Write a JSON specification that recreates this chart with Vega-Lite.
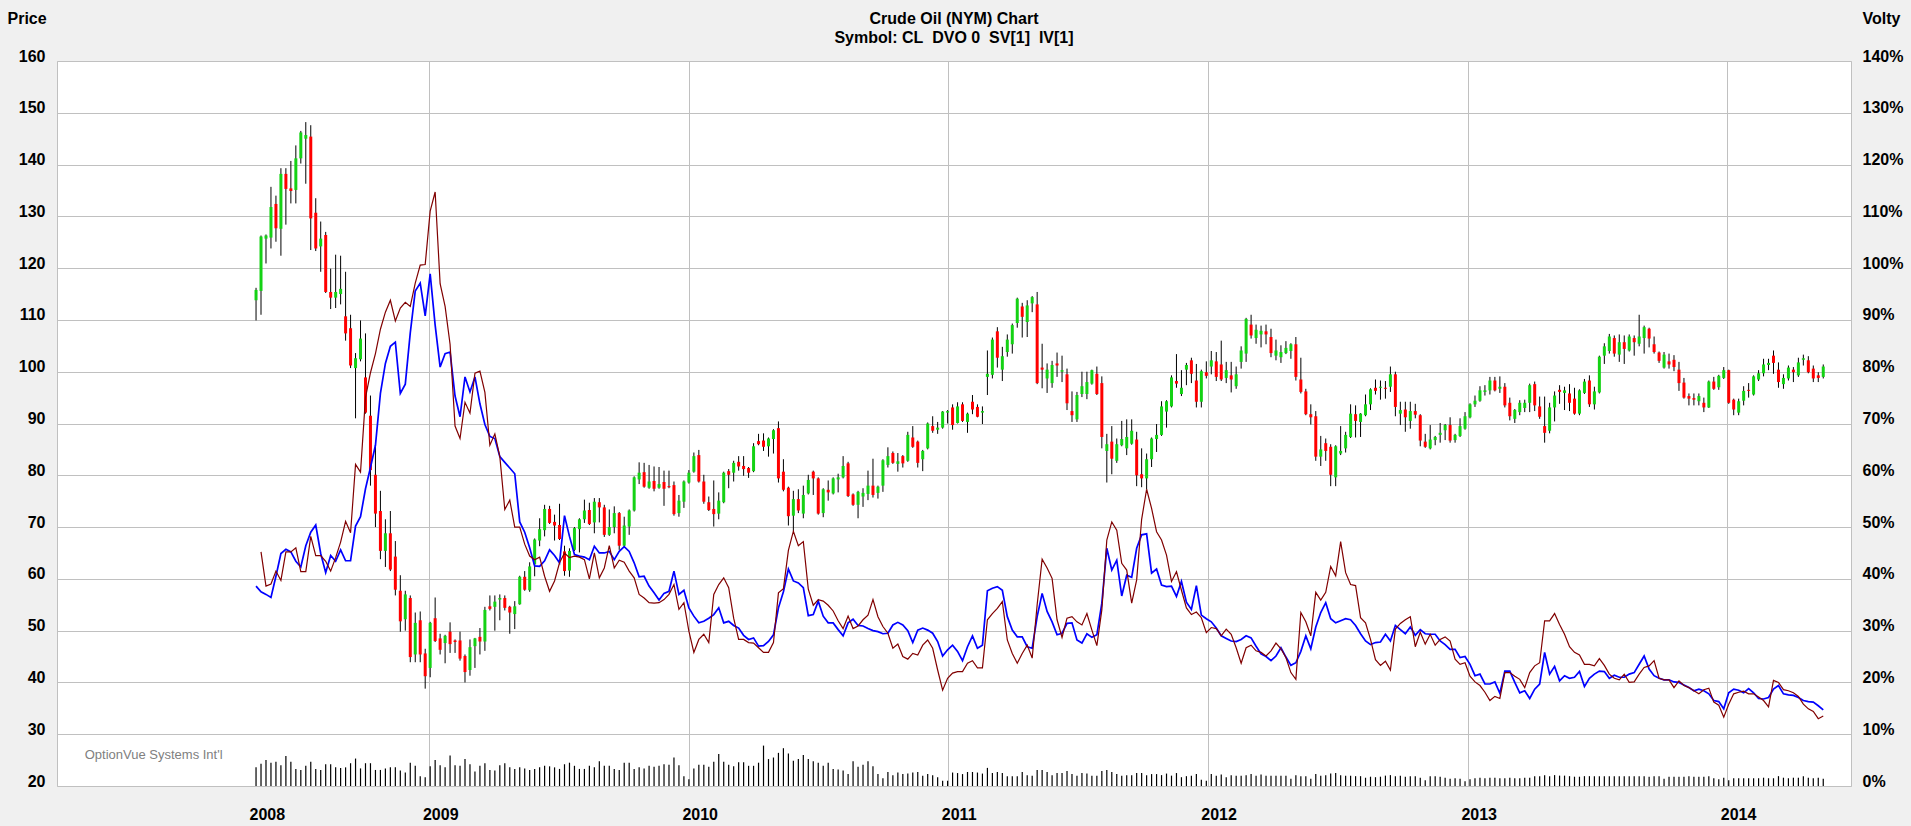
{
  "$schema": "https://vega.github.io/schema/vega-lite/v6.json",
  "description": "Crude Oil (NYM) weekly candles with volatility and volume.",
  "width": 1794,
  "height": 725,
  "autosize": "none",
  "padding": {"left": 57, "top": 61, "right": 60, "bottom": 40},
  "background": "#f0f0f0",
  "title": {
    "text": "Crude Oil (NYM) Chart",
    "subtitle": "Symbol: CL\u00a0 DVO 0\u00a0 SV[1]\u00a0 IV[1]",
    "anchor": "middle",
    "font": "Liberation Sans",
    "fontSize": 16,
    "fontWeight": "bold",
    "color": "black",
    "subtitleFont": "Liberation Sans",
    "subtitleFontSize": 16,
    "subtitleFontWeight": "bold",
    "subtitleColor": "black",
    "subtitlePadding": 3,
    "offset": -36
  },
  "data": {
    "values": [
      {"d":"2008-05-02","o":113.8,"h":116.2,"l":109.9,"c":115.8,"iv":38.6,"v":3.6},
      {"d":"2008-05-09","o":115.6,"h":126.3,"l":111,"c":126.1,"iv":37.5,"sv":45.2,"v":4.3},
      {"d":"2008-05-16","o":125.7,"h":126.5,"l":120.9,"c":126.3,"iv":37,"sv":38.6,"v":5.0},
      {"d":"2008-05-23","o":125.9,"h":135.7,"l":123.8,"c":131.8,"iv":36.4,"sv":39,"v":4.5},
      {"d":"2008-05-30","o":132.4,"h":134,"l":125.1,"c":127.7,"iv":40.5,"sv":41.5,"v":4.7},
      {"d":"2008-06-06","o":127.6,"h":139.3,"l":122.4,"c":138.2,"iv":44.9,"sv":39.7,"v":4.0},
      {"d":"2008-06-13","o":138.2,"h":139.3,"l":128.4,"c":135.3,"iv":45.7,"sv":45.2,"v":5.8},
      {"d":"2008-06-20","o":135.4,"h":140.7,"l":132.5,"c":134.9,"iv":45.2,"sv":45.2,"v":4.7},
      {"d":"2008-06-27","o":135.1,"h":143.7,"l":132.5,"c":141.2,"iv":43.4,"sv":46,"v":3.3},
      {"d":"2008-07-04","o":141.2,"h":146.5,"l":140.2,"c":146.2,"iv":42.3,"sv":41.4,"v":3.1},
      {"d":"2008-07-11","o":145,"h":148.2,"l":136.3,"c":145.7,"iv":46.4,"sv":41.4,"v":3.9},
      {"d":"2008-07-18","o":145.4,"h":147.6,"l":123.5,"c":129.6,"iv":49,"sv":48.2,"v":4.7},
      {"d":"2008-07-25","o":130.7,"h":133.5,"l":123.3,"c":123.8,"iv":50.4,"sv":44.5,"v":3.3},
      {"d":"2008-08-01","o":124.2,"h":129,"l":119.3,"c":125.7,"iv":44.9,"sv":44.5,"v":3.1},
      {"d":"2008-08-08","o":126.4,"h":127,"l":115.2,"c":115.4,"iv":41.2,"sv":43.4,"v":4.2},
      {"d":"2008-08-15","o":115.4,"h":119.9,"l":112.1,"c":114.3,"iv":44.5,"sv":41.5,"v":4.2},
      {"d":"2008-08-22","o":114.3,"h":122.6,"l":112.3,"c":115.4,"iv":43.4,"sv":44.1,"v":3.6},
      {"d":"2008-08-29","o":115,"h":122.4,"l":113,"c":116,"iv":45.6,"sv":47.1,"v":3.5},
      {"d":"2008-09-05","o":110.7,"h":119.3,"l":106,"c":107.4,"iv":43.5,"sv":51.1,"v":3.6},
      {"d":"2008-09-12","o":108.4,"h":111,"l":100.7,"c":101.2,"iv":43.5,"sv":48.9,"v":4.4},
      {"d":"2008-09-19","o":100.7,"h":103.6,"l":91,"c":102.6,"iv":50.2,"sv":62.1,"v":5.3},
      {"d":"2008-09-26","o":102.4,"h":109.9,"l":102,"c":106.4,"iv":52,"sv":60.6,"v":3.4},
      {"d":"2008-10-03","o":98.9,"h":107.4,"l":91.9,"c":92.1,"iv":57.4,"sv":75,"v":4.4},
      {"d":"2008-10-10","o":91.5,"h":95.4,"l":78,"c":81,"iv":61.5,"sv":79.8,"v":4.4},
      {"d":"2008-10-17","o":80.1,"h":85.8,"l":70,"c":72.6,"iv":65.8,"sv":83.5,"v":3.1},
      {"d":"2008-10-24","o":73.1,"h":77,"l":63.8,"c":65.4,"iv":75.8,"sv":88.2,"v":3.1},
      {"d":"2008-10-31","o":65.4,"h":71.5,"l":62.3,"c":68.8,"iv":81.6,"sv":91.5,"v":3.4},
      {"d":"2008-11-07","o":68.8,"h":73.1,"l":61.5,"c":61.8,"iv":84.9,"sv":93.8,"v":3.6},
      {"d":"2008-11-14","o":64.3,"h":67.3,"l":56.8,"c":57.9,"iv":85.7,"sv":89.8,"v":3.6},
      {"d":"2008-11-21","o":57.7,"h":60.7,"l":49.8,"c":51.8,"iv":75.8,"sv":92.3,"v":3.0},
      {"d":"2008-11-28","o":52.2,"h":57.7,"l":50,"c":57,"iv":77.6,"sv":93.4,"v":2.6},
      {"d":"2008-12-05","o":56.3,"h":56.8,"l":43.9,"c":44.9,"iv":87.5,"sv":92.6,"v":4.5},
      {"d":"2008-12-12","o":45.4,"h":53.5,"l":43.9,"c":51.5,"iv":95.6,"sv":97.1,"v":3.9},
      {"d":"2008-12-19","o":52,"h":53.7,"l":43.9,"c":45.4,"iv":97.1,"sv":100.6,"v":1.9},
      {"d":"2008-12-26","o":45.6,"h":46.5,"l":38.8,"c":41.2,"iv":90.8,"sv":100.7,"v":1.7},
      {"d":"2009-01-02","o":42.8,"h":51.7,"l":41,"c":51.5,"iv":98.9,"sv":111,"v":3.8},
      {"d":"2009-01-09","o":52.4,"h":56.4,"l":47.8,"c":48,"iv":89,"sv":114.7,"v":5.0},
      {"d":"2009-01-16","o":48.5,"h":49.4,"l":45.4,"c":46.3,"iv":80.9,"sv":97,"v":4.0},
      {"d":"2009-01-23","o":47.6,"h":49.2,"l":43.7,"c":49,"iv":83.5,"sv":92.6,"v":3.6},
      {"d":"2009-01-30","o":49.8,"h":51.6,"l":45.7,"c":47.4,"iv":83.8,"sv":85.3,"v":5.9},
      {"d":"2009-02-06","o":48.1,"h":48.3,"l":45.7,"c":47.8,"iv":75.3,"sv":69.5,"v":4.0},
      {"d":"2009-02-13","o":48.1,"h":49.8,"l":44.2,"c":44.6,"iv":71.3,"sv":67.1,"v":3.9},
      {"d":"2009-02-20","o":45.1,"h":45.4,"l":40,"c":42,"iv":79,"sv":74.1,"v":5.2},
      {"d":"2009-02-27","o":42.4,"h":48.3,"l":41.3,"c":46.8,"iv":76.1,"sv":72,"v":4.2},
      {"d":"2009-03-06","o":47,"h":48.6,"l":42.8,"c":48.5,"iv":79,"sv":79.7,"v":2.8},
      {"d":"2009-03-13","o":48.8,"h":50.5,"l":45.4,"c":47.9,"iv":73.8,"sv":80.1,"v":3.9},
      {"d":"2009-03-20","o":47.9,"h":54.6,"l":46.1,"c":54,"iv":69.8,"sv":76,"v":4.4},
      {"d":"2009-03-27","o":54.7,"h":56.8,"l":53.9,"c":54.2,"iv":67.5,"sv":65.8,"v":3.1},
      {"d":"2009-04-03","o":54.6,"h":56.8,"l":50,"c":55.6,"iv":67.1,"sv":68,"v":3.0},
      {"d":"2009-04-10","o":56,"h":57,"l":52,"c":56.3,"iv":63.6,"sv":63.6,"v":4.0},
      {"d":"2009-04-17","o":56.3,"h":56.8,"l":53.9,"c":54.4,"iv":62.5,"sv":53.4,"v":4.4},
      {"d":"2009-04-24","o":54.6,"h":54.8,"l":49.4,"c":53.5,"iv":61.4,"sv":55.2,"v":3.6},
      {"d":"2009-05-01","o":53.2,"h":55.7,"l":50.3,"c":54.7,"iv":60.3,"sv":50,"v":3.3},
      {"d":"2009-05-08","o":55.1,"h":60.6,"l":55,"c":60.4,"iv":51,"sv":50,"v":3.6},
      {"d":"2009-05-15","o":60.4,"h":61.5,"l":57.7,"c":57.9,"iv":49,"sv":46.7,"v":3.4},
      {"d":"2009-05-22","o":57.8,"h":63.2,"l":57.5,"c":62.4,"iv":46,"sv":44.4,"v":3.1},
      {"d":"2009-05-29","o":62.8,"h":67.8,"l":60.5,"c":67.6,"iv":42.5,"sv":43.7,"v":3.3},
      {"d":"2009-06-05","o":67.4,"h":71.7,"l":66.3,"c":69.6,"iv":42.4,"sv":44.2,"v":3.6},
      {"d":"2009-06-12","o":69.4,"h":74.3,"l":68.2,"c":73.5,"iv":43.5,"sv":40.5,"v":3.9},
      {"d":"2009-06-19","o":73.5,"h":74.1,"l":70.6,"c":70.8,"iv":45.6,"sv":37.6,"v":3.8},
      {"d":"2009-06-26","o":71,"h":72.4,"l":67.4,"c":70.3,"iv":44.5,"sv":39.6,"v":3.6},
      {"d":"2009-07-03","o":70.4,"h":74.5,"l":67.5,"c":67.7,"iv":43.1,"sv":43.1,"v":3.3},
      {"d":"2009-07-10","o":65.3,"h":66.4,"l":60.6,"c":61.5,"iv":52.2,"sv":45,"v":4.2},
      {"d":"2009-07-17","o":61.6,"h":65.9,"l":60.4,"c":65.4,"iv":48.2,"sv":44.1,"v":4.5},
      {"d":"2009-07-24","o":65.6,"h":70,"l":65.4,"c":69.8,"iv":44.7,"sv":44.4,"v":3.9},
      {"d":"2009-07-31","o":69.6,"h":71.7,"l":65.1,"c":71.5,"iv":44.4,"sv":44.2,"v":3.3},
      {"d":"2009-08-07","o":71.5,"h":75.3,"l":70.8,"c":73.2,"iv":44.2,"sv":43.7,"v":3.3},
      {"d":"2009-08-14","o":73.3,"h":74.7,"l":70.4,"c":70.6,"iv":43.7,"sv":40,"v":3.9},
      {"d":"2009-08-21","o":70.9,"h":75.6,"l":68.8,"c":74.9,"iv":46.3,"sv":45,"v":3.6},
      {"d":"2009-08-28","o":74.8,"h":75.6,"l":70.9,"c":73.8,"iv":45,"sv":40.2,"v":4.8},
      {"d":"2009-09-04","o":73.8,"h":74.3,"l":68.1,"c":68.5,"iv":45,"sv":42.1,"v":3.9},
      {"d":"2009-09-11","o":68.5,"h":73.4,"l":68.3,"c":70,"iv":45.3,"sv":46.4,"v":3.9},
      {"d":"2009-09-18","o":70,"h":74,"l":68.8,"c":72.7,"iv":43.7,"sv":42.1,"v":3.3},
      {"d":"2009-09-25","o":72.7,"h":72.9,"l":65.6,"c":66.4,"iv":45.3,"sv":43.6,"v":3.1},
      {"d":"2009-10-02","o":66.4,"h":72,"l":66,"c":70.3,"iv":46.2,"sv":43.2,"v":4.5},
      {"d":"2009-10-09","o":70.1,"h":73.4,"l":68.5,"c":73.2,"iv":45.3,"sv":41.5,"v":4.5},
      {"d":"2009-10-16","o":73.2,"h":79.8,"l":73,"c":79.6,"iv":43.1,"sv":40.2,"v":3.3},
      {"d":"2009-10-23","o":79.2,"h":82.5,"l":78.3,"c":80.5,"iv":40.4,"sv":37,"v":3.6},
      {"d":"2009-10-30","o":80.6,"h":82.4,"l":77.6,"c":77.8,"iv":40.5,"sv":36.3,"v":3.4},
      {"d":"2009-11-06","o":77.6,"h":82,"l":77.4,"c":78.8,"iv":38.6,"sv":35.4,"v":3.9},
      {"d":"2009-11-13","o":78.9,"h":81.7,"l":76.9,"c":77.4,"iv":37.3,"sv":35.3,"v":3.7},
      {"d":"2009-11-20","o":77.6,"h":81.6,"l":77.4,"c":78.3,"iv":35.9,"sv":35.4,"v":3.9},
      {"d":"2009-11-27","o":78.7,"h":80.9,"l":74.1,"c":77.4,"iv":37.2,"sv":36,"v":4.2},
      {"d":"2009-12-04","o":77.9,"h":80.9,"l":77.5,"c":77.7,"iv":37.6,"sv":37,"v":4.1},
      {"d":"2009-12-11","o":78.1,"h":78.8,"l":72.2,"c":72.5,"iv":41.5,"sv":38.9,"v":5.5},
      {"d":"2009-12-18","o":72.7,"h":76.2,"l":72,"c":75.1,"iv":37,"sv":34.1,"v":4.0},
      {"d":"2009-12-25","o":74.9,"h":79,"l":73.7,"c":78.8,"iv":37.8,"sv":35.4,"v":1.9},
      {"d":"2010-01-01","o":78.6,"h":81,"l":78.4,"c":80.5,"iv":34.4,"sv":29.9,"v":1.3},
      {"d":"2010-01-08","o":80.7,"h":84.4,"l":80.5,"c":83.7,"iv":32.8,"sv":25.8,"v":3.4},
      {"d":"2010-01-15","o":83.9,"h":84.9,"l":78.6,"c":78.8,"iv":31.5,"sv":28.3,"v":4.1},
      {"d":"2010-01-22","o":78.8,"h":80.1,"l":74.5,"c":74.9,"iv":31.8,"sv":29.3,"v":4.1},
      {"d":"2010-01-29","o":74.8,"h":75.9,"l":73.1,"c":73.3,"iv":32.4,"sv":27.7,"v":3.7},
      {"d":"2010-02-05","o":73.5,"h":79,"l":70.1,"c":72.5,"iv":33.1,"sv":37,"v":4.7},
      {"d":"2010-02-12","o":72.6,"h":76.7,"l":71.5,"c":75.1,"iv":34.4,"sv":38.9,"v":6.2},
      {"d":"2010-02-19","o":74.8,"h":80.7,"l":74.6,"c":80.5,"iv":31.5,"sv":40.2,"v":4.7},
      {"d":"2010-02-26","o":80.8,"h":81.2,"l":77.5,"c":80.1,"iv":31.8,"sv":38.3,"v":4.1},
      {"d":"2010-03-05","o":80.5,"h":82.8,"l":78.8,"c":82.4,"iv":31,"sv":32.4,"v":3.8},
      {"d":"2010-03-12","o":82.6,"h":83.7,"l":80.9,"c":81.7,"iv":30.5,"sv":28.3,"v":4.6},
      {"d":"2010-03-19","o":81.8,"h":83.7,"l":79.9,"c":81.2,"iv":29.1,"sv":28.3,"v":4.6},
      {"d":"2010-03-26","o":81.4,"h":81.6,"l":79.5,"c":80.5,"iv":28.3,"sv":27.7,"v":3.9},
      {"d":"2010-04-02","o":80.8,"h":86.2,"l":80.6,"c":85.6,"iv":28.6,"sv":27.6,"v":3.9},
      {"d":"2010-04-09","o":86.6,"h":88,"l":85.8,"c":86,"iv":27,"sv":26.7,"v":4.5},
      {"d":"2010-04-16","o":86.7,"h":88.1,"l":84.7,"c":85.5,"iv":27.1,"sv":25.8,"v":7.8},
      {"d":"2010-04-23","o":85.6,"h":87.3,"l":83.6,"c":87.1,"iv":27.9,"sv":25.8,"v":5.2},
      {"d":"2010-04-30","o":87,"h":88.9,"l":84.2,"c":88.7,"iv":29.2,"sv":27.7,"v":5.5},
      {"d":"2010-05-07","o":89.1,"h":90.4,"l":78.6,"c":79.4,"iv":34.4,"sv":37.3,"v":6.4},
      {"d":"2010-05-14","o":80.7,"h":83.1,"l":76.9,"c":77.2,"iv":37.5,"sv":38.1,"v":7.3},
      {"d":"2010-05-21","o":77.6,"h":77.8,"l":70.3,"c":72.1,"iv":41.9,"sv":45.5,"v":6.3},
      {"d":"2010-05-28","o":72.2,"h":77,"l":69.2,"c":75.4,"iv":39.6,"sv":49.2,"v":4.9},
      {"d":"2010-06-04","o":75.4,"h":77.3,"l":72.7,"c":73.2,"iv":39.2,"sv":46.4,"v":5.2},
      {"d":"2010-06-11","o":72.6,"h":78,"l":71.7,"c":76.2,"iv":38.3,"sv":47.2,"v":6.0},
      {"d":"2010-06-18","o":76.5,"h":80.1,"l":76.3,"c":79.1,"iv":32.9,"sv":38,"v":5.2},
      {"d":"2010-06-25","o":80.7,"h":80.9,"l":76.2,"c":79.4,"iv":33.1,"sv":34.9,"v":4.8},
      {"d":"2010-07-02","o":79.4,"h":79.6,"l":72.4,"c":72.6,"iv":35.7,"sv":36,"v":4.5},
      {"d":"2010-07-09","o":72.7,"h":77.5,"l":71.9,"c":77.3,"iv":32.8,"sv":35.7,"v":3.9},
      {"d":"2010-07-16","o":77.2,"h":79,"l":75.1,"c":76.7,"iv":31.5,"sv":34.9,"v":4.5},
      {"d":"2010-07-23","o":76.5,"h":79.6,"l":76.3,"c":79.4,"iv":31.5,"sv":33.8,"v":3.3},
      {"d":"2010-07-30","o":79.2,"h":80.3,"l":76.7,"c":79.6,"iv":30.2,"sv":31.9,"v":3.2},
      {"d":"2010-08-06","o":79.6,"h":83.7,"l":79.4,"c":81.8,"iv":29,"sv":30.4,"v":3.0},
      {"d":"2010-08-13","o":82.3,"h":82.6,"l":75.8,"c":76,"iv":31.5,"sv":32.8,"v":2.3},
      {"d":"2010-08-20","o":76.3,"h":76.5,"l":74.1,"c":74.3,"iv":32.2,"sv":30.4,"v":4.8},
      {"d":"2010-08-27","o":74.3,"h":77,"l":71.7,"c":76.8,"iv":31,"sv":30.9,"v":3.7},
      {"d":"2010-09-03","o":75.9,"h":77.5,"l":73.9,"c":76.6,"iv":30.9,"sv":32.1,"v":4.1},
      {"d":"2010-09-10","o":76.4,"h":80.9,"l":75.2,"c":78,"iv":30.4,"sv":33,"v":4.8},
      {"d":"2010-09-17","o":78,"h":83.2,"l":75.7,"c":76.2,"iv":30,"sv":36,"v":3.8},
      {"d":"2010-09-24","o":76.6,"h":78,"l":75.5,"c":77.8,"iv":29.8,"sv":32.7,"v":2.3},
      {"d":"2010-10-01","o":78,"h":83.1,"l":76.8,"c":82.9,"iv":29.4,"sv":30.8,"v":1.5},
      {"d":"2010-10-08","o":82,"h":85.4,"l":81.5,"c":83.7,"iv":29.5,"sv":29.5,"v":2.7},
      {"d":"2010-10-15","o":84.3,"h":84.6,"l":82.2,"c":82.4,"iv":31.1,"sv":26.6,"v":2.1},
      {"d":"2010-10-22","o":82.2,"h":84.3,"l":80.7,"c":82.7,"iv":31.6,"sv":27.4,"v":2.6},
      {"d":"2010-10-29","o":83.7,"h":83.9,"l":81.5,"c":82.3,"iv":31.1,"sv":25,"v":2.3},
      {"d":"2010-11-05","o":82.8,"h":88.4,"l":82.6,"c":87.8,"iv":30,"sv":24.5,"v":2.4},
      {"d":"2010-11-12","o":87.3,"h":89.5,"l":85.3,"c":85.5,"iv":27.7,"sv":25.6,"v":2.6},
      {"d":"2010-11-19","o":86.5,"h":86.7,"l":81.5,"c":82.4,"iv":30.1,"sv":25.3,"v":2.7},
      {"d":"2010-11-26","o":83.1,"h":84.9,"l":80.8,"c":84.7,"iv":30.5,"sv":27.2,"v":2.0},
      {"d":"2010-12-03","o":85.2,"h":90.2,"l":85,"c":90,"iv":30.1,"sv":28.2,"v":2.3},
      {"d":"2010-12-10","o":89.5,"h":91.4,"l":88.2,"c":88.6,"iv":29.5,"sv":26.6,"v":2.1},
      {"d":"2010-12-17","o":88.8,"h":90.3,"l":88,"c":89.2,"iv":27.9,"sv":22.4,"v":1.7},
      {"d":"2010-12-24","o":89.2,"h":92.4,"l":89,"c":92.3,"iv":25.1,"sv":18.5,"v":1.0},
      {"d":"2010-12-31","o":92.1,"h":92.6,"l":90,"c":92.4,"iv":26.3,"sv":20.8,"v":1.0},
      {"d":"2011-01-07","o":93.1,"h":93.7,"l":88.8,"c":89.7,"iv":27.2,"sv":21.8,"v":2.6},
      {"d":"2011-01-14","o":90.1,"h":94.1,"l":90,"c":93.3,"iv":26,"sv":22.1,"v":2.5},
      {"d":"2011-01-21","o":93.7,"h":94.1,"l":90.3,"c":90.5,"iv":24.2,"sv":22.1,"v":2.3},
      {"d":"2011-01-28","o":90.3,"h":92.1,"l":88.2,"c":91.9,"iv":26.9,"sv":23.7,"v":2.7},
      {"d":"2011-02-04","o":94.2,"h":95.5,"l":91.8,"c":92.7,"iv":29,"sv":24.2,"v":2.7},
      {"d":"2011-02-11","o":93.2,"h":93.7,"l":91.2,"c":91.3,"iv":26.6,"sv":22.8,"v":2.6},
      {"d":"2011-02-18","o":92.1,"h":93.3,"l":89.9,"c":92.4,"iv":27.2,"sv":22.8,"v":2.4},
      {"d":"2011-02-25","o":99,"h":104.1,"l":95.5,"c":99.6,"iv":37.7,"sv":32.1,"v":3.5},
      {"d":"2011-03-04","o":99.4,"h":106.6,"l":98.7,"c":106.2,"iv":38.2,"sv":33.3,"v":2.5},
      {"d":"2011-03-11","o":107.8,"h":108.6,"l":100.8,"c":102.7,"iv":38.5,"sv":34.3,"v":2.7},
      {"d":"2011-03-18","o":100.4,"h":104.8,"l":98.2,"c":103,"iv":37.8,"sv":35.6,"v":2.5},
      {"d":"2011-03-25","o":103.8,"h":107.2,"l":102.9,"c":106.2,"iv":32.7,"sv":28.2,"v":1.9},
      {"d":"2011-04-01","o":105.3,"h":109.3,"l":103.5,"c":109,"iv":30.1,"sv":25.6,"v":1.9},
      {"d":"2011-04-08","o":109.4,"h":114.3,"l":108.5,"c":114.1,"iv":28.8,"sv":23.7,"v":1.9},
      {"d":"2011-04-15","o":112.6,"h":113.3,"l":106.6,"c":110.6,"iv":28.8,"sv":25.6,"v":2.7},
      {"d":"2011-04-22","o":109.6,"h":113.8,"l":106.7,"c":112.8,"iv":26.9,"sv":27.2,"v":2.1},
      {"d":"2011-04-29","o":113.2,"h":114.6,"l":111.5,"c":114.4,"iv":26.6,"sv":24.7,"v":2.0},
      {"d":"2011-05-06","o":113,"h":115.4,"l":97.6,"c":97.8,"iv":32.7,"sv":35,"v":3.1},
      {"d":"2011-05-13","o":100.8,"h":105.4,"l":96.8,"c":100.4,"iv":37.2,"sv":43.8,"v":3.1},
      {"d":"2011-05-20","o":98.7,"h":101.6,"l":95.9,"c":100.4,"iv":33.7,"sv":42.1,"v":2.7},
      {"d":"2011-05-27","o":97.8,"h":102.1,"l":96.9,"c":101.3,"iv":31.7,"sv":40.1,"v":2.1},
      {"d":"2011-06-03","o":101.6,"h":103.7,"l":99,"c":101.2,"iv":29.2,"sv":32.1,"v":2.5},
      {"d":"2011-06-10","o":100,"h":103.1,"l":98,"c":100.3,"iv":29.5,"sv":28.7,"v":2.5},
      {"d":"2011-06-17","o":99.5,"h":100.6,"l":92.6,"c":93.9,"iv":31.4,"sv":32.4,"v":2.9},
      {"d":"2011-06-24","o":92.4,"h":96.2,"l":90.3,"c":91.6,"iv":31.5,"sv":32.7,"v":2.3},
      {"d":"2011-07-01","o":90.8,"h":96.1,"l":90.3,"c":95.5,"iv":28.2,"sv":31.7,"v":2.0},
      {"d":"2011-07-08","o":95.7,"h":100,"l":95.1,"c":97.2,"iv":27.6,"sv":31.1,"v":2.5},
      {"d":"2011-07-15","o":95.7,"h":100,"l":94.7,"c":98,"iv":29.4,"sv":33.3,"v":2.4},
      {"d":"2011-07-22","o":97.7,"h":100.4,"l":97.5,"c":100.3,"iv":28.7,"sv":30.1,"v":2.0},
      {"d":"2011-07-29","o":99.6,"h":101,"l":95.5,"c":95.7,"iv":29.2,"sv":27.1,"v":2.0},
      {"d":"2011-08-05","o":97.8,"h":99.1,"l":85.2,"c":87.4,"iv":35.3,"sv":34,"v":2.9},
      {"d":"2011-08-12","o":84.7,"h":88,"l":78.6,"c":86,"iv":45.9,"sv":47.5,"v":3.1},
      {"d":"2011-08-19","o":86.5,"h":89.5,"l":80.2,"c":83.2,"iv":41.7,"sv":51,"v":2.7},
      {"d":"2011-08-26","o":82.8,"h":87.1,"l":82.4,"c":86,"iv":43.6,"sv":49.4,"v":2.3},
      {"d":"2011-09-02","o":85.8,"h":90.5,"l":85.6,"c":87,"iv":36.7,"sv":43,"v":2.0},
      {"d":"2011-09-09","o":85.2,"h":90.8,"l":83.9,"c":87.4,"iv":40.7,"sv":41.7,"v":2.1},
      {"d":"2011-09-16","o":86.1,"h":90.8,"l":85.9,"c":88.6,"iv":40.3,"sv":35.3,"v":2.1},
      {"d":"2011-09-23","o":86.9,"h":88.4,"l":77.9,"c":80,"iv":45.9,"sv":39.8,"v":2.5},
      {"d":"2011-09-30","o":80.2,"h":85.2,"l":77.7,"c":79.4,"iv":48.5,"sv":51.5,"v":2.5},
      {"d":"2011-10-07","o":79.4,"h":84.2,"l":77.3,"c":83.1,"iv":48.7,"sv":57.3,"v":2.1},
      {"d":"2011-10-14","o":83.1,"h":87.3,"l":81.6,"c":87.1,"iv":41.1,"sv":53.6,"v":2.3},
      {"d":"2011-10-21","o":87,"h":89.9,"l":84.5,"c":87.8,"iv":41.9,"sv":49.1,"v":2.3},
      {"d":"2011-10-28","o":87.8,"h":94.3,"l":87.6,"c":93.3,"iv":38.8,"sv":47.5,"v":2.1},
      {"d":"2011-11-04","o":92.3,"h":94.5,"l":89.2,"c":94.3,"iv":38.5,"sv":44.6,"v":2.4},
      {"d":"2011-11-11","o":93.3,"h":99.3,"l":93.1,"c":98.9,"iv":38.6,"sv":39.5,"v":2.0},
      {"d":"2011-11-18","o":98.2,"h":103.4,"l":96.9,"c":97.7,"iv":36.6,"sv":41.4,"v":2.5},
      {"d":"2011-11-25","o":95.7,"h":100.3,"l":95.3,"c":96.9,"iv":39.5,"sv":37.8,"v":1.7},
      {"d":"2011-12-02","o":100.4,"h":101.7,"l":97.4,"c":101.3,"iv":35.5,"sv":34.4,"v":1.9},
      {"d":"2011-12-09","o":102.2,"h":102.7,"l":97.8,"c":99.6,"iv":34.1,"sv":33.1,"v":2.0},
      {"d":"2011-12-16","o":98.3,"h":101.5,"l":93.1,"c":94.2,"iv":38.7,"sv":33.6,"v":2.3},
      {"d":"2011-12-23","o":94.2,"h":100.4,"l":93.1,"c":100.1,"iv":33,"sv":32.5,"v":1.2},
      {"d":"2011-12-30","o":99.9,"h":102,"l":98.7,"c":99.2,"iv":32.3,"sv":29.6,"v":1.0},
      {"d":"2012-01-06","o":101,"h":104,"l":99.5,"c":102.2,"iv":31.7,"sv":30.6,"v":2.3},
      {"d":"2012-01-13","o":102,"h":103.8,"l":98.2,"c":99,"iv":30.5,"sv":30.4,"v":2.0},
      {"d":"2012-01-20","o":101.4,"h":106,"l":98.2,"c":98.5,"iv":29,"sv":29,"v":2.2},
      {"d":"2012-01-27","o":98.8,"h":101.9,"l":97.8,"c":100.3,"iv":28.5,"sv":30.3,"v":1.7},
      {"d":"2012-02-03","o":99.3,"h":101.9,"l":96,"c":98.5,"iv":28,"sv":29.3,"v":2.1},
      {"d":"2012-02-10","o":97.2,"h":101,"l":96.7,"c":99.5,"iv":27.9,"sv":26.7,"v":2.0},
      {"d":"2012-02-17","o":101.9,"h":104.9,"l":100.6,"c":104.1,"iv":28.3,"sv":23.7,"v":2.0},
      {"d":"2012-02-24","o":103.5,"h":110.4,"l":101.9,"c":110.2,"iv":29,"sv":26.7,"v":2.1},
      {"d":"2012-03-02","o":109.1,"h":111,"l":106.4,"c":107,"iv":28.6,"sv":27.2,"v":2.3},
      {"d":"2012-03-09","o":106.5,"h":109.1,"l":105.4,"c":108.1,"iv":27,"sv":26.1,"v":2.0},
      {"d":"2012-03-16","o":107.2,"h":108.9,"l":104.7,"c":107.9,"iv":25.5,"sv":25.8,"v":2.2},
      {"d":"2012-03-23","o":107.8,"h":109.1,"l":105.3,"c":107.2,"iv":25,"sv":25.1,"v":2.0},
      {"d":"2012-03-30","o":106.7,"h":108.3,"l":102.8,"c":103.6,"iv":24.2,"sv":26.1,"v":2.0},
      {"d":"2012-04-06","o":103.1,"h":106.2,"l":102.2,"c":104.1,"iv":25.1,"sv":27.6,"v":2.0},
      {"d":"2012-04-13","o":102.8,"h":105.1,"l":101.7,"c":103.8,"iv":26.7,"sv":26.5,"v":2.0},
      {"d":"2012-04-20","o":103.6,"h":105.9,"l":103.4,"c":104.6,"iv":24.9,"sv":24.8,"v":2.0},
      {"d":"2012-04-27","o":104,"h":105.5,"l":102.5,"c":105.3,"iv":23.3,"sv":21.9,"v":1.4},
      {"d":"2012-05-04","o":105.3,"h":106.7,"l":98.3,"c":99,"iv":23.8,"sv":20.6,"v":2.1},
      {"d":"2012-05-11","o":98.5,"h":102.7,"l":95.8,"c":96.1,"iv":26,"sv":33.5,"v":1.9},
      {"d":"2012-05-18","o":96.2,"h":96.7,"l":91.6,"c":91.8,"iv":29,"sv":31.7,"v":1.9},
      {"d":"2012-05-25","o":91.8,"h":93.7,"l":89.8,"c":91.2,"iv":26.5,"sv":29,"v":1.4},
      {"d":"2012-06-01","o":91.4,"h":92.4,"l":82.8,"c":83.6,"iv":30.7,"sv":37.4,"v":2.3},
      {"d":"2012-06-08","o":83.6,"h":87.6,"l":81.8,"c":85,"iv":33.5,"sv":35.9,"v":2.0},
      {"d":"2012-06-15","o":86.2,"h":87.1,"l":82.8,"c":84.7,"iv":35.4,"sv":37.4,"v":2.1},
      {"d":"2012-06-22","o":85.5,"h":86,"l":77.9,"c":80.1,"iv":32.3,"sv":42.4,"v":2.4},
      {"d":"2012-06-29","o":79.6,"h":85.8,"l":77.9,"c":85.6,"iv":31.5,"sv":40.6,"v":2.5},
      {"d":"2012-07-06","o":84.2,"h":89.5,"l":83.9,"c":84.7,"iv":31.9,"sv":47.2,"v":2.1},
      {"d":"2012-07-13","o":85.2,"h":88.4,"l":84.4,"c":87.8,"iv":32.3,"sv":41.2,"v":2.0},
      {"d":"2012-07-20","o":87.4,"h":93.7,"l":87.2,"c":91.9,"iv":32.1,"sv":38.9,"v":2.0},
      {"d":"2012-07-27","o":91.8,"h":93.5,"l":87.3,"c":90.5,"iv":31,"sv":38.7,"v":1.9},
      {"d":"2012-08-03","o":90.3,"h":92,"l":87.4,"c":91.9,"iv":29.4,"sv":32.5,"v":1.9},
      {"d":"2012-08-10","o":91.6,"h":95.6,"l":91.4,"c":93.7,"iv":28,"sv":31.5,"v":1.6},
      {"d":"2012-08-17","o":93.7,"h":96.8,"l":92.6,"c":96.6,"iv":27.3,"sv":28.3,"v":1.8},
      {"d":"2012-08-24","o":96.9,"h":98.5,"l":95.6,"c":96.3,"iv":27.7,"sv":24.4,"v":1.7},
      {"d":"2012-08-31","o":96.9,"h":98.3,"l":94.6,"c":97.1,"iv":27.8,"sv":23.3,"v":1.8},
      {"d":"2012-09-07","o":96.9,"h":98.2,"l":94.8,"c":96.7,"iv":29.3,"sv":24.1,"v":2.0},
      {"d":"2012-09-14","o":97.1,"h":101,"l":96.1,"c":99.5,"iv":28,"sv":22.4,"v":2.1},
      {"d":"2012-09-21","o":99.5,"h":100,"l":91.4,"c":93.2,"iv":31,"sv":30.3,"v":1.9},
      {"d":"2012-09-28","o":91.9,"h":94.2,"l":89.7,"c":92.6,"iv":30.2,"sv":31.4,"v":2.0},
      {"d":"2012-10-05","o":92.7,"h":94.2,"l":88.4,"c":91.2,"iv":29.4,"sv":32.1,"v":1.8},
      {"d":"2012-10-12","o":90.5,"h":94.2,"l":89,"c":92.4,"iv":30.7,"sv":32.7,"v":1.9},
      {"d":"2012-10-19","o":92.4,"h":93.8,"l":91,"c":91.7,"iv":29.1,"sv":26.9,"v":1.9},
      {"d":"2012-10-26","o":91.6,"h":91.8,"l":85.6,"c":86.7,"iv":30.2,"sv":29.7,"v":1.6},
      {"d":"2012-11-02","o":86.5,"h":88,"l":85.3,"c":85.5,"iv":29.4,"sv":27.4,"v":1.1},
      {"d":"2012-11-09","o":85.2,"h":89.7,"l":85,"c":86.9,"iv":29.3,"sv":29.3,"v":1.9},
      {"d":"2012-11-16","o":86.8,"h":87.6,"l":85.8,"c":87.4,"iv":29.3,"sv":27.2,"v":1.9},
      {"d":"2012-11-23","o":87.8,"h":90.1,"l":86.3,"c":88.2,"iv":28,"sv":28.3,"v":1.8},
      {"d":"2012-11-30","o":88.7,"h":89.9,"l":86.8,"c":89.7,"iv":27.3,"sv":28.8,"v":1.6},
      {"d":"2012-12-07","o":89.7,"h":91.2,"l":86.3,"c":86.7,"iv":26.4,"sv":28,"v":1.4},
      {"d":"2012-12-14","o":86.8,"h":88,"l":86.3,"c":87.8,"iv":26.4,"sv":24.5,"v":1.5},
      {"d":"2012-12-21","o":87.6,"h":91,"l":87.4,"c":89.5,"iv":24.8,"sv":23.5,"v":1.4},
      {"d":"2012-12-28","o":89,"h":92.2,"l":88.8,"c":91.4,"iv":25,"sv":23.8,"v":0.9},
      {"d":"2013-01-04","o":91.2,"h":93.9,"l":91,"c":93.7,"iv":23.5,"sv":21.2,"v":1.3},
      {"d":"2013-01-11","o":93.7,"h":95.4,"l":93.2,"c":94.4,"iv":21.3,"sv":20.1,"v":1.5},
      {"d":"2013-01-18","o":94.4,"h":97.2,"l":94.2,"c":96.4,"iv":21.6,"sv":19.4,"v":1.6},
      {"d":"2013-01-25","o":96.1,"h":97.4,"l":95.4,"c":96.4,"iv":19.7,"sv":18.1,"v":1.5},
      {"d":"2013-02-01","o":96.4,"h":99,"l":95.6,"c":98.3,"iv":19.7,"sv":16.5,"v":1.6},
      {"d":"2013-02-08","o":98.3,"h":99,"l":96.2,"c":96.4,"iv":20.1,"sv":17.3,"v":1.6},
      {"d":"2013-02-15","o":96.7,"h":99.1,"l":95.9,"c":97.1,"iv":17.9,"sv":16.9,"v":1.5},
      {"d":"2013-02-22","o":97.1,"h":97.8,"l":93.1,"c":93.5,"iv":22.2,"sv":21.9,"v":1.5},
      {"d":"2013-03-01","o":94,"h":95,"l":90.6,"c":91.4,"iv":22.2,"sv":21.9,"v":1.6},
      {"d":"2013-03-08","o":90.9,"h":92.8,"l":90.1,"c":92.6,"iv":20,"sv":21.2,"v":1.5},
      {"d":"2013-03-15","o":92.2,"h":94.5,"l":91.6,"c":94,"iv":18,"sv":20.6,"v":1.5},
      {"d":"2013-03-22","o":93,"h":94.6,"l":92.2,"c":94,"iv":18.4,"sv":19,"v":1.6},
      {"d":"2013-03-29","o":94,"h":97.7,"l":92.2,"c":97.4,"iv":16.9,"sv":21.9,"v":1.6},
      {"d":"2013-04-05","o":97.6,"h":98.1,"l":92.4,"c":93.5,"iv":18.7,"sv":23.2,"v":1.9},
      {"d":"2013-04-12","o":93.3,"h":95.2,"l":90.9,"c":91.3,"iv":19.7,"sv":23.8,"v":1.9},
      {"d":"2013-04-19","o":89.5,"h":95.2,"l":86.3,"c":88.2,"iv":25.8,"sv":31.9,"v":2.1},
      {"d":"2013-04-26","o":88.6,"h":94,"l":88.1,"c":93.1,"iv":21.6,"sv":31.9,"v":1.9},
      {"d":"2013-05-03","o":93.1,"h":96.2,"l":90.4,"c":95.4,"iv":23.1,"sv":33.3,"v":2.1},
      {"d":"2013-05-10","o":96.5,"h":97.4,"l":93.8,"c":96.1,"iv":20.3,"sv":31.2,"v":2.0},
      {"d":"2013-05-17","o":95.9,"h":97.1,"l":92.6,"c":96.4,"iv":21.3,"sv":29.3,"v":2.0},
      {"d":"2013-05-24","o":95.8,"h":97.6,"l":92.4,"c":94,"iv":20.8,"sv":26.9,"v":1.9},
      {"d":"2013-05-31","o":94.8,"h":96.9,"l":91.7,"c":91.9,"iv":21,"sv":25.8,"v":1.8},
      {"d":"2013-06-07","o":91.9,"h":96.6,"l":91.6,"c":96.4,"iv":22.1,"sv":25.3,"v":1.8},
      {"d":"2013-06-14","o":95.9,"h":98.6,"l":95.7,"c":98.1,"iv":19.2,"sv":23.5,"v":1.9},
      {"d":"2013-06-21","o":98.3,"h":99.3,"l":93.2,"c":93.7,"iv":20.8,"sv":23.5,"v":1.9},
      {"d":"2013-06-28","o":93.7,"h":97.1,"l":92.7,"c":96.2,"iv":21.6,"sv":23.2,"v":1.9},
      {"d":"2013-07-05","o":96,"h":103.1,"l":95.8,"c":102.9,"iv":22.2,"sv":24.6,"v":1.9},
      {"d":"2013-07-12","o":103.1,"h":105.5,"l":101.5,"c":104.9,"iv":22.1,"sv":23.3,"v":1.9},
      {"d":"2013-07-19","o":104,"h":107.3,"l":103.5,"c":106.8,"iv":20.8,"sv":21.6,"v":1.9},
      {"d":"2013-07-26","o":106.5,"h":107,"l":102.9,"c":103.5,"iv":21.4,"sv":20.8,"v":1.9},
      {"d":"2013-08-02","o":103.3,"h":107.2,"l":101.9,"c":105.7,"iv":21,"sv":20.5,"v":1.9},
      {"d":"2013-08-09","o":105.7,"h":107,"l":101.5,"c":104.4,"iv":21,"sv":21.6,"v":1.9},
      {"d":"2013-08-16","o":104.1,"h":107.2,"l":103.9,"c":106.8,"iv":21.6,"sv":20,"v":1.9},
      {"d":"2013-08-23","o":106.5,"h":107,"l":103.1,"c":105.7,"iv":21.9,"sv":20.1,"v":1.9},
      {"d":"2013-08-30","o":105.4,"h":111,"l":104.9,"c":106.8,"iv":23.5,"sv":21.6,"v":1.9},
      {"d":"2013-09-06","o":106.5,"h":108.9,"l":103.5,"c":108.6,"iv":25.1,"sv":22.9,"v":1.9},
      {"d":"2013-09-13","o":108.3,"h":108.5,"l":104.7,"c":106.4,"iv":22.6,"sv":23.2,"v":1.8},
      {"d":"2013-09-20","o":105.3,"h":106.8,"l":103.5,"c":103.8,"iv":21.3,"sv":24.2,"v":1.9},
      {"d":"2013-09-27","o":103.7,"h":103.9,"l":101.7,"c":102.1,"iv":20.8,"sv":20.8,"v":1.9},
      {"d":"2013-10-04","o":100.8,"h":103.8,"l":100.6,"c":103.3,"iv":20.5,"sv":20.5,"v":1.4},
      {"d":"2013-10-11","o":102,"h":103.5,"l":100.6,"c":101.4,"iv":20.5,"sv":20.5,"v":1.8},
      {"d":"2013-10-18","o":102.3,"h":103.2,"l":100.1,"c":100.9,"iv":20.1,"sv":19,"v":1.8},
      {"d":"2013-10-25","o":100.4,"h":101.9,"l":96.3,"c":97.8,"iv":20,"sv":20.3,"v":1.8},
      {"d":"2013-11-01","o":97.9,"h":98.8,"l":94.8,"c":95,"iv":19.5,"sv":19.4,"v":1.8},
      {"d":"2013-11-08","o":95.3,"h":95.8,"l":93.5,"c":94.8,"iv":19,"sv":19,"v":1.9},
      {"d":"2013-11-15","o":94.9,"h":95.8,"l":93.5,"c":94.6,"iv":18.4,"sv":18.4,"v":1.8},
      {"d":"2013-11-22","o":94.3,"h":95.8,"l":93.5,"c":95.3,"iv":18.7,"sv":17.8,"v":1.8},
      {"d":"2013-11-29","o":94,"h":95,"l":92.2,"c":93.1,"iv":18.4,"sv":18.6,"v":1.8},
      {"d":"2013-12-06","o":93.1,"h":98.3,"l":93,"c":98.1,"iv":17.8,"sv":18.9,"v":1.9},
      {"d":"2013-12-13","o":98.1,"h":99,"l":96.5,"c":96.7,"iv":16.5,"sv":16.2,"v":1.5},
      {"d":"2013-12-20","o":97,"h":99.4,"l":96.5,"c":99.2,"iv":16.3,"sv":15.6,"v":1.3},
      {"d":"2013-12-27","o":98.8,"h":100.9,"l":98.6,"c":100.3,"iv":14.9,"sv":13.3,"v":1.6},
      {"d":"2014-01-03","o":100.3,"h":100.4,"l":93.8,"c":94,"iv":18,"sv":15.8,"v":1.1},
      {"d":"2014-01-10","o":94.6,"h":94.8,"l":91.6,"c":92.7,"iv":18.7,"sv":17.8,"v":1.5},
      {"d":"2014-01-17","o":92.1,"h":94.8,"l":91.6,"c":94.3,"iv":18.5,"sv":18.1,"v":1.5},
      {"d":"2014-01-24","o":94.4,"h":97.2,"l":93.5,"c":96.3,"iv":18,"sv":18.3,"v":1.5},
      {"d":"2014-01-31","o":96.5,"h":97.8,"l":95,"c":96.3,"iv":18.8,"sv":17.8,"v":1.5},
      {"d":"2014-02-07","o":95.6,"h":99.3,"l":95.4,"c":99.1,"iv":18,"sv":17.8,"v":1.5},
      {"d":"2014-02-14","o":98.5,"h":100.3,"l":98.2,"c":99.7,"iv":16.9,"sv":17.2,"v":1.5},
      {"d":"2014-02-21","o":99.7,"h":102.5,"l":99.1,"c":101.4,"iv":16.8,"sv":16.5,"v":1.6},
      {"d":"2014-02-28","o":101.3,"h":102.5,"l":100.3,"c":101.7,"iv":17.1,"sv":15.3,"v":1.5},
      {"d":"2014-03-07","o":103.1,"h":104.1,"l":99.6,"c":101.7,"iv":18.7,"sv":20.4,"v":1.5},
      {"d":"2014-03-14","o":100.4,"h":101.8,"l":96.9,"c":98,"iv":19.4,"sv":20,"v":1.9},
      {"d":"2014-03-21","o":97.6,"h":99.5,"l":96.7,"c":98.8,"iv":17.8,"sv":18.6,"v":1.6},
      {"d":"2014-03-28","o":98.7,"h":101.2,"l":98.3,"c":100.8,"iv":17.6,"sv":18.4,"v":1.5},
      {"d":"2014-04-04","o":100.4,"h":100.9,"l":98,"c":99.9,"iv":17.5,"sv":18,"v":1.6},
      {"d":"2014-04-11","o":99.3,"h":102.7,"l":99,"c":101.8,"iv":17.1,"sv":17.3,"v":1.6},
      {"d":"2014-04-18","o":102.3,"h":103.3,"l":101.2,"c":102.6,"iv":16.5,"sv":15.8,"v":1.9},
      {"d":"2014-04-25","o":102.2,"h":103,"l":99.7,"c":99.9,"iv":16.3,"sv":14.9,"v":1.6},
      {"d":"2014-05-02","o":100.6,"h":101.2,"l":98,"c":98.7,"iv":16.2,"sv":14.4,"v":1.5},
      {"d":"2014-05-09","o":99.3,"h":99.9,"l":98,"c":98.8,"iv":15.5,"sv":13,"v":1.6},
      {"d":"2014-05-16","o":99,"h":101.4,"l":98.7,"c":101,"iv":14.7,"sv":13.5,"v":1.4}
    ]
  },
  "layer": [
    {
      "mark": {"type": "rule", "color": "black", "strokeWidth": 1.2},
      "encoding": {
        "x": {
          "field": "d",
          "type": "temporal",
          "scale": {
            "type": "utc",
            "domain": [
              {"year": 2007, "month": 8, "date": 3, "utc": true},
              {"year": 2014, "month": 6, "date": 17, "utc": true}
            ]
          },
          "axis": {
            "title": null,
            "values": [
              {"year": 2008, "month": 5, "date": 2, "utc": true},
              {"year": 2009, "month": 1, "date": 1, "utc": true},
              {"year": 2010, "month": 1, "date": 1, "utc": true},
              {"year": 2011, "month": 1, "date": 1, "utc": true},
              {"year": 2012, "month": 1, "date": 1, "utc": true},
              {"year": 2013, "month": 1, "date": 1, "utc": true},
              {"year": 2014, "month": 1, "date": 1, "utc": true}
            ],
            "format": "%Y",
            "labelAlign": "left",
            "labelOffset": -7,
            "labelBaseline": "alphabetic",
            "labelPadding": 33,
            "grid": true,
            "gridOpacity": {"condition": {"test": "year(datum.value) == 2008", "value": 0}, "value": 1}
          }
        },
        "y": {"field": "v", "type": "quantitative", "scale": {"domain": [0, 140], "nice": false, "zero": true}, "axis": null},
        "y2": {"datum": 0}
      }
    },
    {
      "mark": {"type": "rule", "color": "black", "strokeWidth": 1},
      "encoding": {
        "x": {"field": "d", "type": "temporal", "scale": {"type": "utc"}},
        "y": {
          "field": "l",
          "type": "quantitative",
          "scale": {"domain": [20, 160], "nice": false, "zero": false},
          "axis": {
            "orient": "left",
            "values": [20, 30, 40, 50, 60, 70, 80, 90, 100, 110, 120, 130, 140, 150, 160],
            "grid": true,
            "title": "Price",
            "titleAngle": 0,
            "titleAlign": "left",
            "titleBaseline": "alphabetic",
            "titleX": -50,
            "titleY": -38,
            "labelPadding": 12,
            "labelBaseline": "alphabetic"
          }
        },
        "y2": {"field": "h"}
      }
    },
    {
      "mark": {"type": "bar", "width": 3},
      "encoding": {
        "x": {"field": "d", "type": "temporal", "scale": {"type": "utc"}},
        "y": {"field": "o", "type": "quantitative", "scale": {"domain": [20, 160], "nice": false, "zero": false}, "axis": null},
        "y2": {"field": "c"},
        "color": {"condition": {"test": "datum.c >= datum.o", "value": "#14d214"}, "value": "#ff0000"}
      }
    },
    {
      "data": {"values": [{}]},
      "mark": {"type": "text", "text": "OptionVue Systems Int'l", "align": "left", "baseline": "alphabetic", "font": "Liberation Sans", "fontSize": 13, "color": "#808080"},
      "encoding": {
        "x": {"datum": {"year": 2007, "month": 9, "date": 4, "utc": true}, "type": "temporal", "scale": {"type": "utc"}},
        "y": {"datum": 25.2, "type": "quantitative", "scale": {"domain": [20, 160], "nice": false, "zero": false}, "axis": null}
      }
    },
    {
      "mark": {"type": "line", "color": "#0000ff", "strokeWidth": 1.7},
      "encoding": {
        "x": {"field": "d", "type": "temporal", "scale": {"type": "utc"}},
        "y": {
          "field": "iv",
          "type": "quantitative",
          "scale": {"domain": [0, 140], "nice": false, "zero": true},
          "axis": {
            "orient": "right",
            "values": [0, 10, 20, 30, 40, 50, 60, 70, 80, 90, 100, 110, 120, 130, 140],
            "labelExpr": "datum.value + '%'",
            "grid": false,
            "title": "Volty",
            "titleAngle": 0,
            "titleAlign": "left",
            "titleBaseline": "alphabetic",
            "titleX": 11,
            "titleY": -38,
            "labelPadding": 11,
            "labelAlign": "left",
            "labelBaseline": "alphabetic"
          }
        }
      }
    },
    {
      "mark": {"type": "line", "color": "#800000", "strokeWidth": 1.2},
      "encoding": {
        "x": {"field": "d", "type": "temporal", "scale": {"type": "utc"}},
        "y": {"field": "sv", "type": "quantitative", "scale": {"domain": [0, 140], "nice": false, "zero": true}, "axis": null}
      }
    }
  ],
  "resolve": {"scale": {"y": "independent"}},
  "config": {
    "view": {"fill": "white", "stroke": "#c0c0c0", "strokeWidth": 1},
    "axis": {
      "labelFont": "Liberation Sans",
      "labelFontSize": 16,
      "labelFontWeight": "bold",
      "labelColor": "black",
      "titleFont": "Liberation Sans",
      "titleFontSize": 16,
      "titleFontWeight": "bold",
      "titleColor": "black",
      "domain": false,
      "ticks": false,
      "gridColor": "#c0c0c0",
      "gridWidth": 1
    }
  }
}
